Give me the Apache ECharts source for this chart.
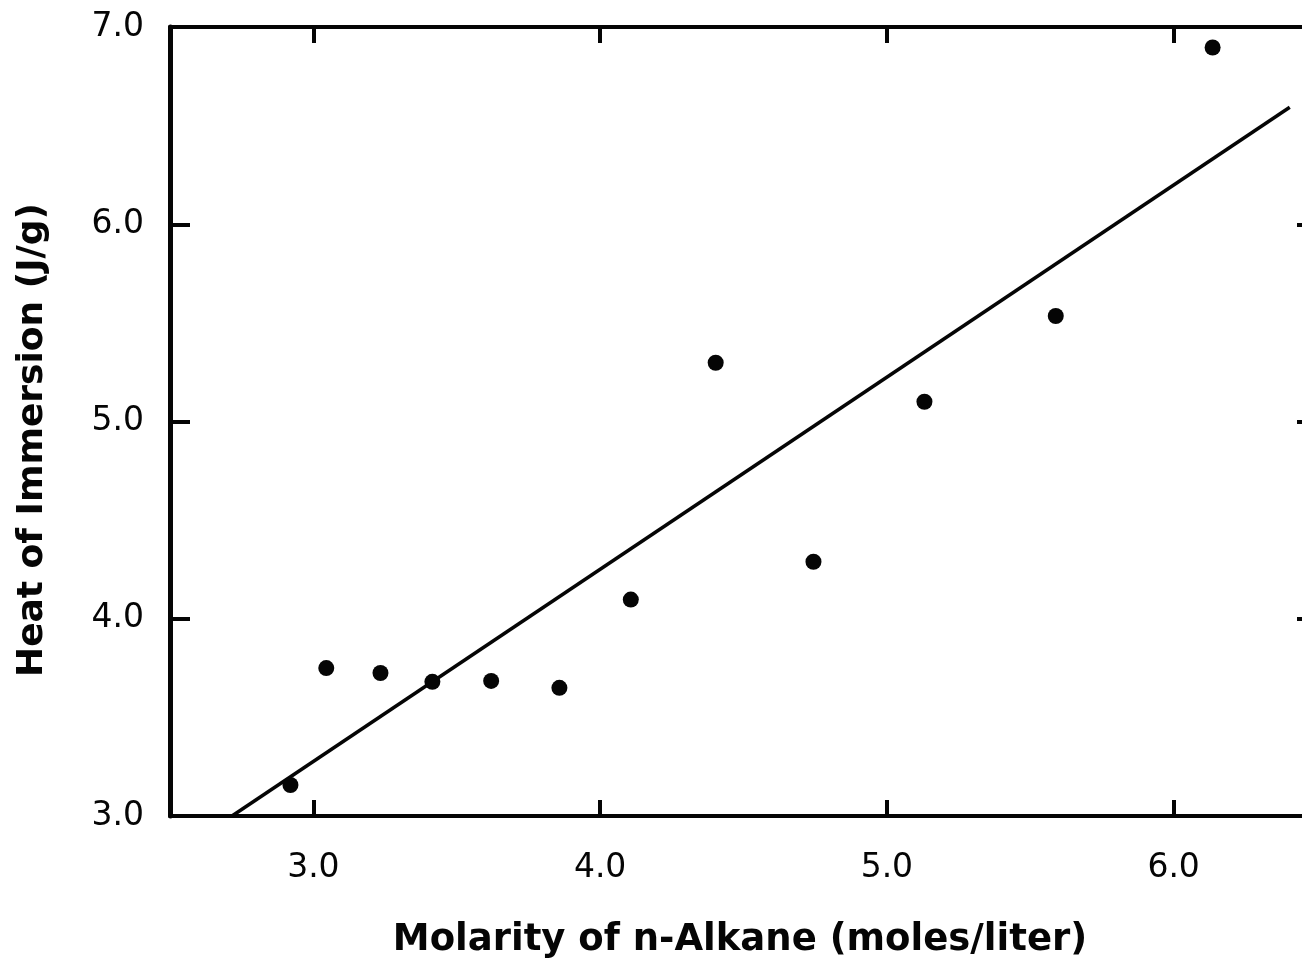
<!DOCTYPE html>
<html>
<head>
<meta charset="utf-8">
<style>
  html, body { margin: 0; padding: 0; background: #ffffff; overflow: hidden; width: 1302px; height: 966px; }
  /* the frame's right edge runs a little past the visible page */
  #chart { width: 1340px; height: 966px; }
</style>
<script src="https://cdn.jsdelivr.net/npm/echarts@6/dist/echarts.min.js"></script>
</head>
<body>
<div id="chart"></div>
<script>
// Heat of immersion vs. n-alkane molarity
const molarity = [2.92, 3.045, 3.234, 3.415, 3.62, 3.858, 4.107, 4.403, 4.744, 5.131, 5.589, 6.136];
const heatOfImmersion = [3.157, 3.75, 3.725, 3.68, 3.685, 3.65, 4.097, 5.298, 4.289, 5.10, 5.535, 6.896];

// least-squares line endpoints (x, y)
const fitX = [2.716, 6.405];
const fitY = [3.0, 6.593];

const xTicks = [3, 4, 5, 6];
const yTicks = [3, 4, 5, 6, 7];

const xTitle = 'Molarity of n-Alkane (moles/liter)';
const yTitle = 'Heat of Immersion (J/g)';

const points = molarity.map((x, i) => [x, heatOfImmersion[i]]);
const fitLine = fitX.map((x, i) => [x, fitY[i]]);

const ink = '#050505';
const tickFont = { fontFamily: 'DejaVu Sans', fontSize: 33, color: ink };

const chart = echarts.init(document.getElementById('chart'), null, { renderer: 'canvas' });

chart.setOption({
  backgroundColor: '#ffffff',
  animation: false,
  grid: { left: 170, top: 27, width: 1147, height: 789, containLabel: false },
  xAxis: [
    {
      type: 'value', position: 'bottom', min: 2.5, max: 6.5,
      axisLine: { show: true, onZero: false, lineStyle: { color: ink, width: 4 } },
      axisTick: { show: true, inside: true, length: 16, customValues: xTicks, lineStyle: { color: ink, width: 4 } },
      axisLabel: { show: true, customValues: xTicks, margin: 36, formatter: v => v.toFixed(1), ...tickFont },
      splitLine: { show: false }
    },
    {
      type: 'value', position: 'top', min: 2.5, max: 6.5,
      axisLine: { show: true, onZero: false, lineStyle: { color: ink, width: 4 } },
      axisTick: { show: true, inside: true, length: 16, customValues: xTicks, lineStyle: { color: ink, width: 4 } },
      axisLabel: { show: false },
      splitLine: { show: false }
    }
  ],
  yAxis: [
    {
      type: 'value', position: 'left', min: 3, max: 7,
      axisLine: { show: true, onZero: false, lineStyle: { color: ink, width: 5 } },
      axisTick: { show: true, inside: true, length: 20, customValues: yTicks, lineStyle: { color: ink, width: 4 } },
      axisLabel: { show: true, customValues: yTicks, margin: 26, formatter: v => v.toFixed(1), ...tickFont },
      splitLine: { show: false }
    },
    {
      type: 'value', position: 'right', min: 3, max: 7,
      axisLine: { show: true, onZero: false, lineStyle: { color: ink, width: 4 } },
      axisTick: { show: true, inside: true, length: 20, customValues: yTicks, lineStyle: { color: ink, width: 4 } },
      axisLabel: { show: false },
      splitLine: { show: false }
    }
  ],
  series: [
    {
      type: 'line', data: fitLine, xAxisIndex: 0, yAxisIndex: 0,
      showSymbol: false, symbol: 'none',
      lineStyle: { color: ink, width: 3.5 },
      z: 2
    },
    {
      type: 'scatter', data: points, xAxisIndex: 0, yAxisIndex: 0,
      symbol: 'circle', symbolSize: 16,
      itemStyle: { color: ink, opacity: 1 },
      z: 3
    }
  ],
  graphic: [
    {
      type: 'text', x: 740, y: 940,
      style: {
        text: xTitle, fontFamily: 'DejaVu Sans', fontWeight: 'bold', fontSize: 37,
        fill: ink, align: 'center', verticalAlign: 'middle'
      }
    },
    {
      type: 'text', x: 33, y: 440, rotation: Math.PI / 2,
      style: {
        text: yTitle, fontFamily: 'DejaVu Sans', fontWeight: 'bold', fontSize: 36,
        fill: ink, align: 'center', verticalAlign: 'middle'
      }
    }
  ]
});
</script>
</body>
</html>
